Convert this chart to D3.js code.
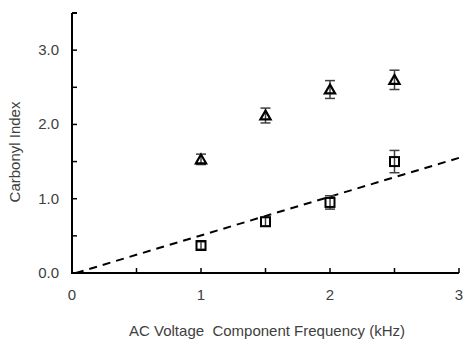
<!DOCTYPE html>
<html><head><meta charset="utf-8">
<script src="https://cdn.jsdelivr.net/npm/d3@7"></script>
<style>body{margin:0;background:#fff}svg{display:block}</style>
</head><body><svg id="c" width="463" height="339"></svg>
<script>
const freq = [1, 1.5, 2, 2.5];
const triVals = [1.53, 2.12, 2.47, 2.60];
const triErr = [0.07, 0.10, 0.12, 0.13];
const sqVals = [0.37, 0.69, 0.95, 1.50];
const sqErr = [0.05, 0.06, 0.09, 0.15];
const fitX = [0.03, 3];
const fitY = [0, 1.55];
const xTicks = [0, 1, 2, 3];
const yTicks = [0, 1, 2, 3];

const svg = d3.select('#c');
const x = d3.scaleLinear().domain([0, 3]).range([72, 459]);
const y = d3.scaleLinear().domain([0, 3.5]).range([273, 13]);
const txt = '#404040';
const font = 'Liberation Sans, Arial, sans-serif';
const fs = 15;

// axes
const ax = svg.append('g').attr('stroke', '#000');
ax.append('line').attr('x1', x(0) - 1).attr('x2', x(3)).attr('y1', y(0)).attr('y2', y(0)).attr('stroke-width', 2);
ax.append('line').attr('x1', x(0)).attr('x2', x(0)).attr('y1', y(3.5)).attr('y2', y(0)).attr('stroke-width', 2);
ax.append('line').attr('x1', x(0)).attr('x2', x(0) + 5).attr('y1', y(3.5)).attr('y2', y(3.5)).attr('stroke-width', 2);
ax.selectAll('.xt').data(d3.range(0.5, 3.01, 0.5)).join('line').attr('class', 'xt')
  .attr('x1', d => x(d)).attr('x2', d => x(d)).attr('y1', y(0)).attr('y2', y(0) - 5).attr('stroke-width', 1.5);
ax.selectAll('.yt').data(d3.range(0.5, 3.01, 0.5)).join('line').attr('class', 'yt')
  .attr('x1', x(0)).attr('x2', x(0) + 5).attr('y1', d => y(d)).attr('y2', d => y(d)).attr('stroke-width', 1.5);

svg.append('g').selectAll('text').data(xTicks).join('text')
  .attr('x', d => x(d)).attr('y', y(0) + 27).attr('text-anchor', 'middle')
  .attr('font-family', font).attr('font-size', fs).attr('fill', txt).text(d => d);
svg.append('g').selectAll('text').data(yTicks).join('text')
  .attr('x', 59).attr('y', d => y(d) + 5).attr('text-anchor', 'end')
  .attr('font-family', font).attr('font-size', fs).attr('fill', txt).text(d => d.toFixed(1));

svg.append('text').attr('x', 267).attr('y', 336).attr('text-anchor', 'middle')
  .attr('font-family', font).attr('font-size', fs).attr('fill', txt)
  .attr('xml:space', 'preserve').text('AC Voltage  Component Frequency (kHz)');
svg.append('text').attr('transform', `translate(20,152) rotate(-90)`).attr('text-anchor', 'middle')
  .attr('font-family', font).attr('font-size', fs).attr('fill', txt).text('Carbonyl Index');

// fit line
svg.append('line').attr('x1', x(fitX[0])).attr('y1', y(fitY[0])).attr('x2', x(fitX[1])).attr('y2', y(fitY[1]))
  .attr('stroke', '#000').attr('stroke-width', 2).attr('stroke-dasharray', '8,6');

function errBars(vals, errs) {
  const g = svg.append('g').attr('stroke', '#404040').attr('stroke-width', 1.5);
  freq.forEach((f, i) => {
    const cx = x(f), lo = y(vals[i] - errs[i]), hi = y(vals[i] + errs[i]);
    g.append('line').attr('x1', cx).attr('x2', cx).attr('y1', lo).attr('y2', hi);
    g.append('line').attr('x1', cx - 5).attr('x2', cx + 5).attr('y1', lo).attr('y2', lo);
    g.append('line').attr('x1', cx - 5).attr('x2', cx + 5).attr('y1', hi).attr('y2', hi);
  });
}
errBars(triVals, triErr);
errBars(sqVals, sqErr);

const tri = d3.symbol().type(d3.symbolTriangle).size(45);
svg.append('g').selectAll('path').data(triVals).join('path')
  .attr('d', tri).attr('transform', (d, i) => `translate(${x(freq[i])},${y(d) + 1})`)
  .attr('fill', 'none').attr('stroke', '#000').attr('stroke-width', 2.2);
svg.append('g').selectAll('rect').data(sqVals).join('rect')
  .attr('x', (d, i) => x(freq[i]) - 4.5).attr('y', d => y(d) - 4.5)
  .attr('width', 9).attr('height', 9)
  .attr('fill', 'none').attr('stroke', '#000').attr('stroke-width', 2);
</script></body></html>
